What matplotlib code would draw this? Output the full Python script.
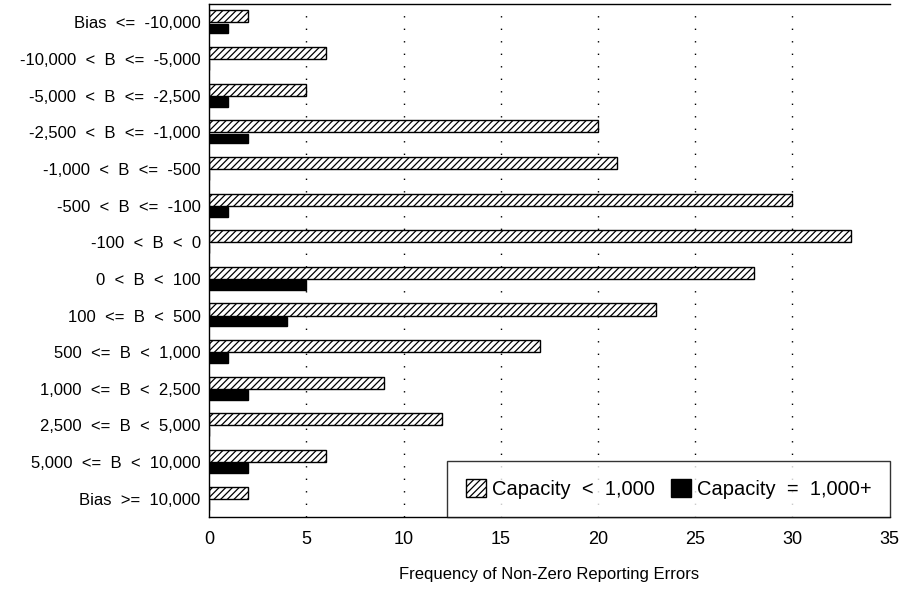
import matplotlib
matplotlib.use("Agg")
import matplotlib.pyplot as plt
import numpy as np

plt.rcParams["font.family"] = ["Liberation Sans", "DejaVu Sans"]
plt.rcParams["hatch.linewidth"] = 0.9

categories = [
    "Bias  <=  -10,000",
    "-10,000  <  B  <=  -5,000",
    "-5,000  <  B  <=  -2,500",
    "-2,500  <  B  <=  -1,000",
    "-1,000  <  B  <=  -500",
    "-500  <  B  <=  -100",
    "-100  <  B  <  0",
    "0  <  B  <  100",
    "100  <=  B  <  500",
    "500  <=  B  <  1,000",
    "1,000  <=  B  <  2,500",
    "2,500  <=  B  <  5,000",
    "5,000  <=  B  <  10,000",
    "Bias  >=  10,000",
]
small_cap = [2, 6, 5, 20, 21, 30, 33, 28, 23, 17, 9, 12, 6, 2]
large_cap = [1, 0, 1, 2, 0, 1, 0, 5, 4, 1, 2, 0, 2, 0]
xticks = [0, 5, 10, 15, 20, 25, 30, 35]

fig = plt.figure(figsize=(9.05, 5.95), dpi=100)
ax = fig.add_axes([0.231, 0.131, 0.752, 0.862])

y = np.arange(len(categories))
h = 0.33
ax.barh(y - h / 2, small_cap, height=h, color="white", edgecolor="black",
        hatch="/////", linewidth=1.0, label="Capacity  <  1,000")
ax.barh(y + h / 2, large_cap, height=h * 0.8, color="black", edgecolor="black",
        linewidth=1.0, label="Capacity  =  1,000+")

ax.set_ylim(len(categories) - 0.5, -0.5)
ax.set_xlim(0, 35)
ax.set_yticks(y, categories, fontsize=12)
ax.set_xticks(xticks, [str(t) for t in xticks], fontsize=13)
ax.tick_params(axis="both", length=0, pad=6)
ax.tick_params(axis="x", pad=10)
for t in xticks[1:-1]:
    ax.axvline(t, color="black", linestyle=(0, (1, 8)), linewidth=1.0, zorder=0)
for s in ["left", "bottom", "top", "right"]:
    ax.spines[s].set_linewidth(1.0)
ax.spines["right"].set_visible(False)
ax.set_xlabel("Frequency of Non-Zero Reporting Errors", fontsize=12, labelpad=14)

leg = ax.legend(loc="lower right", ncol=2, fontsize=14.5, frameon=True, fancybox=False,
                edgecolor="black", borderaxespad=0, handlelength=1.0, handleheight=1.0,
                columnspacing=0.8, handletextpad=0.3, borderpad=0.9)
leg.get_frame().set_linewidth(1.0)

fig.savefig("out.png", dpi=100)
